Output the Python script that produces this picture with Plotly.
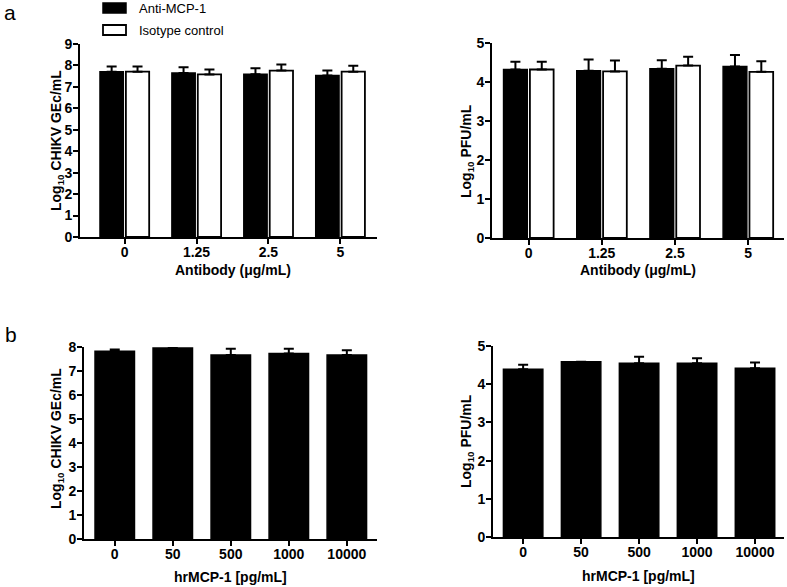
import plotly.graph_objects as go

# ---------- data ----------
antibody_labels = ["0", "1.25", "2.5", "5"]
gec_anti = [7.71, 7.65, 7.59, 7.53]
gec_anti_err = [0.24, 0.26, 0.28, 0.24]
gec_iso = [7.71, 7.58, 7.76, 7.71]
gec_iso_err = [0.24, 0.23, 0.28, 0.28]
pfu_anti = [4.32, 4.29, 4.34, 4.40]
pfu_anti_err = [0.20, 0.29, 0.22, 0.29]
pfu_iso = [4.32, 4.27, 4.42, 4.26]
pfu_iso_err = [0.20, 0.28, 0.23, 0.27]

hr_labels = ["0", "50", "500", "1000", "10000"]
hr_gec = [7.82, 7.96, 7.67, 7.73, 7.67]
hr_gec_err = [0.08, 0.0, 0.26, 0.20, 0.19]
hr_pfu = [4.39, 4.59, 4.55, 4.55, 4.42]
hr_pfu_err = [0.12, 0.0, 0.17, 0.13, 0.15]

series_names = ["Anti-MCP-1", "Isotype control"]

FONT = "Liberation Sans, Arial, sans-serif"
W, H = 787, 587

fig = go.Figure()

def eb(arr):
    return dict(type="data", array=arr, arrayminus=[0] * len(arr), symmetric=False,
                color="black", thickness=2, width=5)

BLACK = dict(color="black", line=dict(color="black", width=1.5))
WHITE = dict(color="white", line=dict(color="black", width=1.8))

fig.add_trace(go.Bar(x=antibody_labels, y=gec_anti, error_y=eb(gec_anti_err), name=series_names[0],
                     marker=BLACK, xaxis="x", yaxis="y", showlegend=False))
fig.add_trace(go.Bar(x=antibody_labels, y=gec_iso, error_y=eb(gec_iso_err), name=series_names[1],
                     marker=WHITE, xaxis="x", yaxis="y", showlegend=False))
fig.add_trace(go.Bar(x=antibody_labels, y=pfu_anti, error_y=eb(pfu_anti_err), name=series_names[0],
                     marker=BLACK, xaxis="x2", yaxis="y2", showlegend=False))
fig.add_trace(go.Bar(x=antibody_labels, y=pfu_iso, error_y=eb(pfu_iso_err), name=series_names[1],
                     marker=WHITE, xaxis="x2", yaxis="y2", showlegend=False))
fig.add_trace(go.Bar(x=hr_labels, y=hr_gec, error_y=eb(hr_gec_err), showlegend=False,
                     marker=BLACK, xaxis="x3", yaxis="y3", width=0.68))
fig.add_trace(go.Bar(x=hr_labels, y=hr_pfu, error_y=eb(hr_pfu_err), showlegend=False,
                     marker=BLACK, xaxis="x4", yaxis="y4", width=0.68))

def dx(a, b):
    return [a / W, b / W]
def dy(top, bottom):
    return [1 - bottom / H, 1 - top / H]
def px(x):
    return x / W
def py(y):
    return 1 - y / H

tickfont = dict(family=FONT, size=14, color="black", weight="bold")

def xax(domain, anchor, rng):
    return dict(domain=domain, anchor=anchor, range=rng, showline=True, linecolor="black", linewidth=2,
                ticks="outside", ticklen=5, tickwidth=2, tickcolor="black", showgrid=False,
                zeroline=False, tickfont=tickfont, fixedrange=True, automargin=False,
                ticklabelstandoff=-4)

def yax(domain, anchor, rng, dtick):
    return dict(domain=domain, anchor=anchor, range=rng, dtick=dtick, showline=True, linecolor="black",
                linewidth=2, ticks="outside", ticklen=5, tickwidth=2, tickcolor="black", showgrid=False,
                zeroline=False, tickfont=tickfont, fixedrange=True, automargin=False,
                ticklabelstandoff=-2)

ann = []
def text(t, x, y, size=14, bold=True, angle=0, xanchor="center"):
    ann.append(dict(text=t, x=px(x), y=py(y), xref="paper", yref="paper", xanchor=xanchor,
                    yanchor="middle", showarrow=False, textangle=angle,
                    font=dict(family=FONT, size=size, color="black", weight="bold" if bold else "normal")))

text("Antibody (μg/mL)", 233, 270)
text("Antibody (μg/mL)", 638, 270)
text("hrMCP-1 [pg/mL]", 230, 577)
text("hrMCP-1 [pg/mL]", 638, 576)
text("Log<sub>10</sub> CHIKV GEc/mL", 57, 141, angle=-90)
text("Log<sub>10</sub> PFU/mL", 467, 151, angle=-90)
text("Log<sub>10</sub> CHIKV GEc/mL", 57, 439, angle=-90)
text("Log<sub>10</sub> PFU/mL", 467, 441, angle=-90)
text("a", 2, 12, size=21, bold=False, xanchor="left")
text("b", 3, 334, size=21, bold=False, xanchor="left")
text(series_names[0], 137, 8, size=13, bold=False, xanchor="left")
text(series_names[1], 137, 30, size=13, bold=False, xanchor="left")

shapes = [
    dict(type="rect", xref="paper", yref="paper", x0=px(103), x1=px(126), y0=py(13), y1=py(3),
         fillcolor="black", line=dict(color="black", width=1.5)),
    dict(type="rect", xref="paper", yref="paper", x0=px(103), x1=px(126), y0=py(35), y1=py(25),
         fillcolor="white", line=dict(color="black", width=1.8)),
]

fig.update_layout(
    width=W, height=H, margin=dict(l=0, r=0, t=0, b=0, autoexpand=False),
    paper_bgcolor="white", plot_bgcolor="white",
    barmode="group", bargap=0.28, bargroupgap=0.1,
    font=dict(family=FONT, color="black"),
    showlegend=False,
    xaxis=xax(dx(80, 377), "y", [-0.62, 3.51]),
    yaxis=yax(dy(44, 237), "x", [0, 9], 1),
    xaxis2=xax(dx(492, 784), "y2", [-0.5, 3.49]),
    yaxis2=yax(dy(43, 238), "x2", [0, 5], 1),
    xaxis3=xax(dx(84, 377), "y3", [-0.53, 4.52]),
    yaxis3=yax(dy(347, 539), "x3", [0, 8], 1),
    xaxis4=xax(dx(493, 784), "y4", [-0.52, 4.5]),
    yaxis4=yax(dy(346, 537), "x4", [0, 5], 1),
    annotations=ann,
    shapes=shapes,
)

fig.write_html("out.html", config={"displayModeBar": False, "staticPlot": True},
               post_script="document.body.style.margin='0';document.body.style.padding='0';")
